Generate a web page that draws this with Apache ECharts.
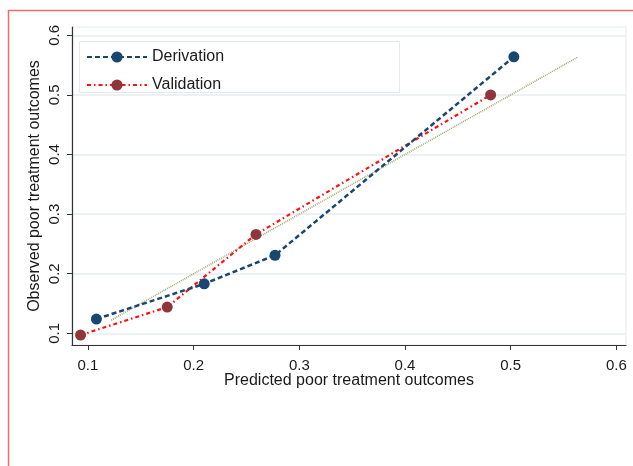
<!DOCTYPE html>
<html>
<head>
<meta charset="utf-8">
<script src="https://cdn.jsdelivr.net/npm/echarts@6/dist/echarts.min.js"></script>
<style>html,body{margin:0;padding:0;background:#fff}#c{width:633px;height:466px}</style>
</head>
<body>
<div id="c"></div>
<script>
var derivX = [0.108, 0.210, 0.277, 0.503];
var derivY = [0.124, 0.183, 0.231, 0.564];
var validX = [0.093, 0.175, 0.259, 0.481];
var validY = [0.097, 0.144, 0.266, 0.500];
var refX = [0.122, 0.563];
var refY = [0.122, 0.563];
var xTicks = [0.1, 0.2, 0.3, 0.4, 0.5, 0.6];
var yTicks = [0.1, 0.2, 0.3, 0.4, 0.5, 0.6];
var seriesNames = ['Derivation', 'Validation'];
var xTitle = 'Predicted poor treatment outcomes';
var yTitle = 'Observed poor treatment outcomes';

function pairs(xs, ys) { return xs.map(function (x, i) { return [x, ys[i]]; }); }

var font = 'Liberation Sans, Arial, sans-serif';
var chart = echarts.init(document.getElementById('c'), null, {renderer: 'canvas'});
chart.setOption({
  animation: false,
  backgroundColor: '#fff',
  grid: {left: 72, right: 7, top: 27, bottom: 121, show: true, borderColor: '#e6ecef', borderWidth: 1},
  xAxis: {
    type: 'value', min: 0.0849, max: 0.6091,
    name: xTitle, nameLocation: 'middle', nameGap: 28, nameMoveOverlap: false,
    nameTextStyle: {fontSize: 16, color: '#1a1a1a', fontFamily: font},
    axisLine: {show: true, onZero: false, lineStyle: {color: '#333', width: 1.2}},
    axisTick: {show: true, length: 5, customValues: xTicks, lineStyle: {color: '#333'}},
    axisLabel: {customValues: xTicks, margin: 13, fontSize: 15, color: '#1a1a1a', fontFamily: font,
      formatter: function (v) { return v.toFixed(1); }},
    splitLine: {show: false}
  },
  yAxis: {
    type: 'value', min: 0.0804, max: 0.614,
    name: yTitle, nameLocation: 'middle', nameGap: 29, nameRotate: 90, nameMoveOverlap: false,
    nameTextStyle: {fontSize: 16, color: '#1a1a1a', fontFamily: font},
    axisLine: {show: true, onZero: false, lineStyle: {color: '#333', width: 1.2}},
    axisTick: {show: true, length: 5, customValues: yTicks, lineStyle: {color: '#333'}},
    axisLabel: {customValues: yTicks, rotate: 90, margin: 10, fontSize: 15, color: '#1a1a1a', fontFamily: font,
      formatter: function (v) { return v.toFixed(1); }},
    splitLine: {show: true, lineStyle: {color: '#e6eef1', width: 1.5}}
  },
  legend: {
    data: seriesNames, orient: 'vertical', left: 81, top: 44, itemWidth: 60, itemHeight: 14, itemGap: 12,
    textStyle: {fontSize: 16, color: '#1a1a1a', fontFamily: font}
  },
  graphic: [
    {type: 'rect', silent: true, z: 100, shape: {x: 8.5, y: 10.5, width: 800, height: 800},
      style: {fill: 'none', stroke: '#e96b6b', lineWidth: 1.5}},
    {type: 'rect', silent: true, z: -1, shape: {x: 79.5, y: 41.5, width: 320, height: 51},
      style: {fill: '#fff', stroke: '#e3e9ec', lineWidth: 1}}
  ],
  series: [
    {
      name: 'ref', type: 'line', data: pairs(refX, refY), showSymbol: false, symbol: 'none',
      lineStyle: {color: '#9aaa72', width: 1.6, type: [1, 1]}, z: 1
    },
    {
      name: 'Derivation', type: 'line', data: pairs(derivX, derivY), symbol: 'circle', symbolSize: 11,
      itemStyle: {color: '#1a476f'},
      lineStyle: {color: '#1a476f', width: 2.5, type: [5, 3]}, z: 3
    },
    {
      name: 'Validation', type: 'line', data: pairs(validX, validY), symbol: 'circle', symbolSize: 11,
      itemStyle: {color: '#90353b'},
      lineStyle: {color: '#ff1010', width: 2.2, type: [4, 3, 1.5, 3]}, z: 2
    }
  ]
});
</script>
</body>
</html>
